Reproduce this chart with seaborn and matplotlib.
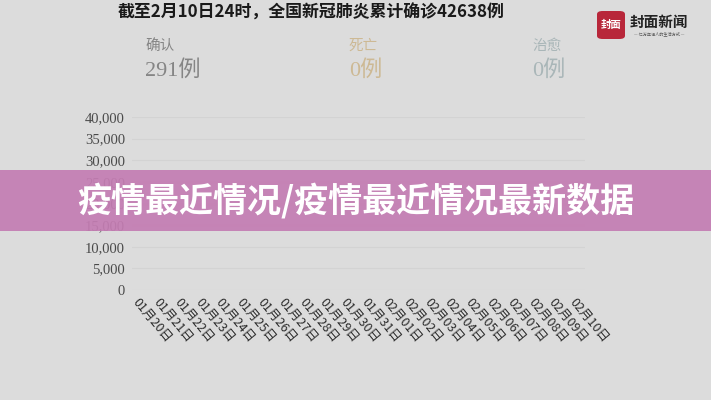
import pandas as pd
import matplotlib.pyplot as plt
import seaborn as sns
from matplotlib.patches import FancyBboxPatch, Rectangle

# dados
datas = ['01月20日', '01月21日', '01月22日', '01月23日', '01月24日', '01月25日',
         '01月26日', '01月27日', '01月28日', '01月29日', '01月30日', '01月31日',
         '02月01日', '02月02日', '02月03日', '02月04日', '02月05日', '02月06日',
         '02月07日', '02月08日', '02月09日', '02月10日']
confirmados = [291]  # animação ainda no primeiro dia
y_ticks = [0, 5000, 10000, 15000, 20000, 25000, 30000, 35000, 40000]
titulo = '截至2月10日24时，全国新冠肺炎累计确诊42638例'
stats_nomes = ['确认', '死亡', '治愈']
stats_valores = ['291例', '0例', '0例']
stats_cores = ['#858585', '#cdb994', '#a9b6b8']
banner = '疫情最近情况/疫情最近情况最新数据'

sns.set_theme(style='white')
plt.rcParams['font.family'] = ['Noto Sans CJK SC', 'DejaVu Sans']

fundo = '#dcdcdc'
fig = plt.figure(figsize=(7.11, 4.0), dpi=100, facecolor=fundo)
ax = fig.add_axes([132 / 711, 0.275, 453 / 711, 173 / 400], facecolor=fundo)

df = pd.DataFrame({'data': datas[:len(confirmados)], 'casos': confirmados})
df['x'] = range(len(df))
sns.lineplot(data=df, x='x', y='casos', ax=ax, color='#8c8c8c', linewidth=1.5)

ax.set_xlim(-0.38, 21.38)
ax.set_ylim(0, 40000)
ax.set_xticks(range(len(datas)))
ax.set_xticklabels(datas, rotation=-50, ha='left', va='top', rotation_mode='anchor',
                   fontsize=9, color='#2a2a2a')
ax.set_yticks(y_ticks)
ax.set_yticklabels([f'{v:,}' for v in y_ticks], family='Liberation Serif',
                   fontsize=10.5, color='#4a4a4a')
ax.tick_params(axis='y', length=3, color='#c8c8c8', pad=2)
ax.tick_params(axis='x', length=0, pad=4)
ax.grid(axis='y', color='#d3d3d3', linewidth=0.8)
for s in ax.spines.values():
    s.set_visible(False)
ax.set_xlabel('')
ax.set_ylabel('')

# título e números
fig.text(0.437, 0.968, titulo, ha='center', va='center', fontsize=12.2,
         fontweight='bold', color='#1a1a1a')
for i, (nome, valor, cor) in enumerate(zip(stats_nomes, stats_valores, stats_cores)):
    xpos = [145, 349, 532][i] / 711
    fig.text(xpos, 1 - 46 / 400, nome, ha='left', va='center', fontsize=10.5, color=cor)
    fig.text(xpos, 1 - 70 / 400, valor, ha='left', va='center', fontsize=16,
             color=cor, family=['Liberation Serif', 'Noto Sans CJK SC'])

# logo
fig.patches.append(FancyBboxPatch((597 / 711, 1 - 39 / 400), 28 / 711, 28 / 400,
                                  boxstyle='round,pad=0,rounding_size=0.008',
                                  transform=fig.transFigure, facecolor='#b8273a',
                                  edgecolor='none'))
fig.text(611 / 711, 1 - 25 / 400, '封面', ha='center', va='center', fontsize=7.5,
         color='white', fontweight='bold')
fig.text(659 / 711, 1 - 22 / 400, '封面新闻', ha='center', va='center', fontsize=10.5,
         color='#222222', fontweight='bold')
fig.text(659 / 711, 1 - 34 / 400, '— 亿万年轻人的生活方式 —', ha='center', va='center',
         fontsize=3, color='#555555')

# faixa rosa
fig.patches.append(Rectangle((0, 1 - 231 / 400), 1, 61 / 400, transform=fig.transFigure,
                             facecolor='#c47db3', edgecolor='none', alpha=0.93, zorder=5))
fig.text(0.5, 1 - 201 / 400, banner, ha='center', va='center', fontsize=24.5,
         fontweight='heavy', color='white', zorder=6)

fig.savefig('out.png', dpi=100, facecolor=fundo)
